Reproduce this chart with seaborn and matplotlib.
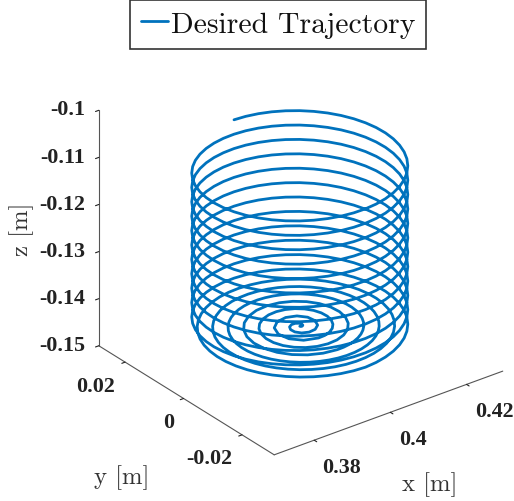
import matplotlib
matplotlib.use("Agg")
import matplotlib.pyplot as plt
import seaborn as sns

# Flat spiral at the base: offsets from the centre, millimetres, read point by point
spiral_x_mm = [0,.134,.464,.804,.928,.670,0,-.938,-1.856,-2.411,-2.320,-1.473,0,1.741,3.248,4.018,3.711,2.277,0,-2.545,-4.639,-5.625,-5.103,-3.080,0,
 1.699,3.348,4.830,6.031,6.856,7.232,7.115,6.495,5.398,3.884,2.045,0,-2.114,-4.152,-5.967,-7.423,-8.408,-8.839,-8.667,-7.887,-6.534,-4.688,-2.461,0,
 2.530,4.955,7.103,8.815,9.961,10.446,10.219,9.279,7.671,5.491,2.877,0,-2.946,-5.759,-8.239,-10.207,-11.514,-12.054,-11.772,-10.670,-8.807,-6.295,-3.293,0,
 3.362,6.563,9.376,11.599,13.066,13.661,13.325,12.063,9.944,7.098,3.709,0,-3.778,-7.366,-10.512,-12.990,-14.618,-15.268,-14.877,-13.454,-11.080,-7.902,-4.125,0,
 4.194,8.170,11.648,14.382,16.170,16.875,16.429,14.846,12.217,8.705,4.541,0,-4.610,-8.973,-12.785,-15.774,-17.723,-18.482,-17.981,-16.238,-13.353,-9.509,-4.957,0,
 5.026,9.777,13.921,17.165,19.275,20.089,19.534,17.630,14.489,10.313,5.373,0,-5.442,-10.581,-15.058,-18.558,-20.828,-21.696,-21.086,-19.021,-15.626,-11.116,-5.789,0]
spiral_y_mm = [0,-.232,-.268,0,.536,1.160,1.607,1.624,1.071,0,-1.339,-2.552,-3.214,-3.016,-1.875,0,2.143,3.944,4.821,4.407,2.679,0,-2.946,-5.335,-6.429,
 -6.339,-5.799,-4.830,-3.482,-1.837,0,1.906,3.750,5.398,6.727,7.633,8.036,7.892,7.191,5.967,4.286,2.253,0,-2.322,-4.554,-6.534,-8.119,-9.185,-9.643,
 -9.444,-8.583,-7.103,-5.089,-2.669,0,2.738,5.357,7.671,9.511,10.737,11.250,10.996,9.975,8.239,5.893,3.085,0,-3.154,-6.161,-8.807,-10.902,-12.290,-12.857,
 -12.548,-11.366,-9.376,-6.696,-3.501,0,3.570,6.964,9.944,12.294,13.842,14.464,14.100,12.758,10.512,7.500,3.917,0,-3.986,-7.768,-11.080,-13.687,-15.395,-16.071,
 -15.653,-14.150,-11.648,-8.304,-4.333,0,4.402,8.571,12.217,15.078,16.947,17.679,17.206,15.542,12.785,9.107,4.749,0,-4.818,-9.375,-13.353,-16.470,-18.499,-19.286,
 -18.758,-16.934,-13.921,-9.911,-5.165,0,5.234,10.179,14.489,17.862,20.052,20.893,20.311,18.326,15.058,10.714,5.581,0,-5.650,-10.982,-15.626,-19.254,-21.604,-22.5]
# Extra points between those of the last three turns, where the curve is largest
spiral_mid_x_mm = [1.687,4.997,8.031,10.573,12.436,13.477,13.610,12.807,11.104,8.602,5.459,1.879,-1.896,-5.612,-9.010,-11.848,-13.920,-15.070,-15.203,-14.292,-12.379,-9.581,-6.074,-2.089,
 2.106,6.227,9.988,13.123,15.405,16.664,16.796,15.777,13.654,10.559,6.689,2.298,-2.316,-6.842,-10.966,-14.398,-16.890,-18.257,-18.389,-17.261,-14.930,-11.537,-7.304,-2.508,
 2.525,7.457,11.945,15.673,18.374,19.850,19.983,18.746,16.204,12.516,7.919,2.718,-2.735,-8.072,-12.923,-16.948,-19.859,-21.443,-21.576,-20.230,-17.479,-13.494,-8.534,-2.928]
spiral_mid_y_mm = [-12.813,-12.064,-10.467,-8.113,-5.151,-1.774,1.792,5.305,8.521,11.211,13.179,14.274,14.406,13.549,11.742,9.091,5.766,1.984,-2.001,-5.920,-9.499,-12.486,-14.663,-15.867,
 -15.999,-15.034,-13.017,-10.070,-6.381,-2.193,2.211,6.535,10.477,13.761,16.148,17.461,17.593,16.518,14.292,11.048,6.996,2.403,-2.421,-7.150,-11.456,-15.036,-17.633,-19.054,
 -19.186,-18.003,-15.566,-12.026,-7.611,-2.613,2.630,7.765,12.434,16.311,19.117,20.647,20.779,19.488,16.842,13.004,8.226,2.823,-2.840,-8.380,-13.412,-17.586,-20.602,-22.240]

# One turn of the upper cylinder, offsets in millimetres
ring_x_mm = [-2.937,-5.823,-8.61,-11.25,-13.698,-15.91,-17.85,-19.486,-20.787,-21.733,-22.307,-22.5,
             -22.307,-21.733,-20.787,-19.486,-17.85,-15.91,-13.698,-11.25,-8.61,-5.823,-2.937,0,
             2.937,5.823,8.61,11.25,13.698,15.91,17.85,19.486,20.787,21.733,22.307,22.5,
             22.307,21.733,20.787,19.486,17.85,15.91,13.698,11.25,8.61,5.823,2.937,0]
ring_y_mm = [22.307,21.733,20.787,19.486,17.85,15.91,13.698,11.25,8.61,5.823,2.937,0,
             -2.937,-5.823,-8.61,-11.25,-13.698,-15.91,-17.85,-19.486,-20.787,-21.733,-22.307,-22.5,
             -22.307,-21.733,-20.787,-19.486,-17.85,-15.91,-13.698,-11.25,-8.61,-5.823,-2.937,0,
             2.937,5.823,8.61,11.25,13.698,15.91,17.85,19.486,20.787,21.733,22.307,22.5]
# Height of the base and of the start of each full turn, and the climb through a turn
base_z = -.1437
turn_start_z = [-.14217,-.13912,-.13606,-.133,-.12994,-.12689,-.12383,-.12077,-.11771,-.11466,-.1116]
turn_climb_z = [.000064,.000127,.000191,.000255,.000318,.000382,.000446,.00051,.000573,.000637,.000701,.000764,
                .000828,.000892,.000955,.001019,.001083,.001146,.00121,.001274,.001338,.001401,.001465,.001529,
                .001592,.001656,.00172,.001783,.001847,.001911,.001975,.002038,.002102,.002166,.002229,.002293,
                .002357,.00242,.002484,.002548,.002611,.002675,.002739,.002803,.002866,.00293,.002994,.003057]
centre_x = 0.4
centre_y = 0.0

x_ticks = [0.38, 0.40, 0.42]
x_tick_labels = ["0.38", "0.4", "0.42"]
y_ticks = [-0.02, 0.0, 0.02]
y_tick_labels = ["-0.02", "0", "0.02"]
z_ticks = [-0.15, -0.14, -0.13, -0.12, -0.11, -0.10]
z_tick_labels = ["-0.15", "-0.14", "-0.13", "-0.12", "-0.11", "-0.1"]
series_name = "Desired Trajectory"


def woven(main, mid):
    head, tail = main[:-len(mid) - 1], main[-len(mid) - 1:]
    out = list(head)
    for a, b in zip(tail, mid):
        out += [a, b]
    return out + [tail[-1]]


base_x = woven(spiral_x_mm, spiral_mid_x_mm)
base_y = woven(spiral_y_mm, spiral_mid_y_mm)
xs = [centre_x + v / 1000 for v in base_x]
ys = [centre_y + v / 1000 for v in base_y]
zs = [base_z] * len(base_x)
# The climb starts at the front of the base, half a turn before the first full turn
xs += [centre_x + v / 1000 for v in ring_x_mm[24:]]
ys += [centre_y + v / 1000 for v in ring_y_mm[24:]]
zs += [base_z + c for c in turn_climb_z[:24]]
for start in turn_start_z:
    xs += [centre_x + v / 1000 for v in ring_x_mm]
    ys += [centre_y + v / 1000 for v in ring_y_mm]
    zs += [start + c for c in turn_climb_z]

sns.set_theme(style="white")
plt.rcParams["font.family"] = ["Liberation Serif"]
plt.rcParams["axes.unicode_minus"] = False
blue = sns.color_palette(["#0072BD"])[0]
axis_grey = "#555555"

fig = plt.figure(figsize=(5.14, 5.02), dpi=100)
ax = fig.add_axes([37 / 514, 2.5 / 502, 1.0, 1.0], projection="3d", proj_type="ortho")
ax.set_box_aspect((1, 1, 0.93), zoom=0.943)
ax.view_init(elev=28.5, azim=-127.5)
line, = ax.plot(xs, ys, zs, color=blue, lw=2.0, label=series_name)

ax.set_xlim(0.3695, 0.4295, view_margin=0)
ax.set_ylim(-0.031, 0.029, view_margin=0)
ax.set_zlim(-0.15, -0.10, view_margin=0)
ax.set_xticks(x_ticks, x_tick_labels)
ax.set_yticks(y_ticks, y_tick_labels)
ax.set_zticks(z_ticks, z_tick_labels)
ax.grid(False)
ax.patch.set_alpha(0)
for axis in (ax.xaxis, ax.yaxis, ax.zaxis):
    axis.set_pane_color((1, 1, 1, 0))
    axis.pane.set_edgecolor((1, 1, 1, 0))
    axis.line.set_color(axis_grey)
    axis.line.set_linewidth(0.8)
    axis._axinfo["tick"]["inward_factor"] = 0.18
    axis._axinfo["tick"]["outward_factor"] = 0.0
    axis._axinfo["tick"]["linewidth"] = {True: 0.8, False: 0.5}
    axis._axinfo["tick"]["color"] = axis_grey
ax.tick_params(axis="x", labelsize=15.8, colors="#222222", pad=1)
ax.tick_params(axis="y", labelsize=15.8, colors="#222222", pad=0)
ax.tick_params(axis="z", labelsize=15.8, colors="#222222", pad=-1.6)
for lab in ax.get_xticklabels():
    lab.set_fontweight("bold")
    lab.set_ha("left")
for lab in ax.get_yticklabels():
    lab.set_fontweight("bold")
    lab.set_ha("right")
for lab in ax.get_zticklabels():
    lab.set_fontweight("bold")
    lab.set_ha("right")
    lab.set_va("center")

label_font = dict(family="cmr10", fontsize=17.8, color="#333333", ha="center", va="center")
fig.text(430 / 514, 1 - 485 / 502, "x [m]", **label_font)
fig.text(122 / 514, 1 - 478 / 502, "y [m]", **label_font)
fig.text(22 / 514, 1 - 229 / 502, "z [m]", rotation=90, **label_font)

leg = fig.legend(handles=[line], loc="upper center", bbox_to_anchor=(278 / 514, 1 - 1 / 502),
                 prop={"family": "cmr10", "size": 21.4}, frameon=True, fancybox=False,
                 edgecolor="#333333", labelcolor="#111111", framealpha=1, handlelength=0.91,
                 handletextpad=0.1, borderpad=0.37, borderaxespad=0)
leg.get_frame().set_linewidth(1.2)

fig.savefig("out.png", dpi=100)
